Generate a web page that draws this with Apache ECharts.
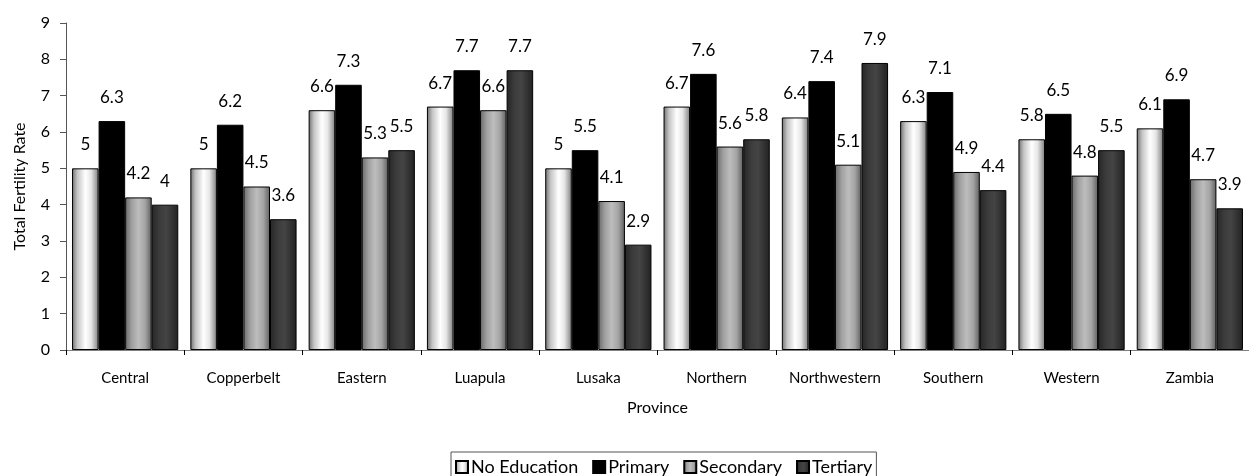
<!DOCTYPE html>
<html>
<head>
<meta charset="utf-8">
<script src="https://cdn.jsdelivr.net/npm/echarts@6/dist/echarts.min.js"></script>
<style>
  html, body { margin: 0; padding: 0; background: #fff; }
  #chart { width: 1249px; height: 476px; }
</style>
</head>
<body>
<div id="chart"></div>
<script>
// TFR by province and education level
const provinces = ['Central', 'Copperbelt', 'Eastern', 'Luapula', 'Lusaka', 'Northern', 'Northwestern', 'Southern', 'Western', 'Zambia']
const noEducation = [5, 5, 6.6, 6.7, 5, 6.7, 6.4, 6.3, 5.8, 6.1]
const primary = [6.3, 6.2, 7.3, 7.7, 5.5, 7.6, 7.4, 7.1, 6.5, 6.9]
const secondary = [4.2, 4.5, 5.3, 6.6, 4.1, 5.6, 5.1, 4.9, 4.8, 4.7]
const tertiary = [4, 3.6, 5.5, 7.7, 2.9, 5.8, 7.9, 4.4, 5.5, 3.9]
const yTicks = [0, 1, 2, 3, 4, 5, 6, 7, 8, 9]

const FONT = 'Lato'

function grad(stops) {
  return new echarts.graphic.LinearGradient(0, 0, 1, 0,
    stops.map((c) => ({ offset: c[0], color: c[1] })))
}

const colors = {
  'No Education': grad([[0, '#6e6e6e'], [0.2, '#c4c4c4'], [0.5, '#ffffff'], [0.72, '#e6e6e6'], [1, '#7e7e7e']]),
  'Primary': '#000000',
  'Secondary': grad([[0, '#6a6a6a'], [0.25, '#a0a0a0'], [0.5, '#bdbdbd'], [0.75, '#a4a4a4'], [1, '#5e5e5e']]),
  'Tertiary': grad([[0, '#262626'], [0.3, '#3c3c3c'], [0.55, '#444444'], [1, '#222222']])
}

function makeSeries(name, data) {
  return {
    name,
    type: 'bar',
    data,
    barGap: '0%',
    barCategoryGap: '10.2%',
    itemStyle: { color: colors[name], borderColor: '#000', borderWidth: 1 },
    label: {
      show: true,
      position: 'top',
      distance: 15,
      color: '#000',
      fontFamily: FONT,
      fontSize: 17
    }
  }
}

const chart = echarts.init(document.getElementById('chart'))
chart.setOption({
  animation: false,
  backgroundColor: '#fff',
  textStyle: { fontFamily: FONT },
  grid: { left: 66, top: 23, width: 1192, height: 327 },
  legend: {
    bottom: -8,
    left: 451,
    icon: 'rect',
    itemWidth: 12,
    itemHeight: 12,
    itemGap: 14,
    padding: [6, 4, 8, 4],
    borderColor: '#555',
    borderWidth: 1,
    borderRadius: 0,
    textStyle: { fontFamily: FONT, fontSize: 18, color: '#000', padding: [0, 0, 0, -2] },
    data: ['No Education', 'Primary', 'Secondary', 'Tertiary']
  },
  xAxis: {
    type: 'category',
    data: provinces,
    name: 'Province',
    nameLocation: 'middle',
    nameGap: 50,
    nameTextStyle: { fontFamily: FONT, fontSize: 16, color: '#000' },
    axisLine: { lineStyle: { color: '#808080', width: 1 } },
    axisTick: { show: true, length: 5, lineStyle: { color: '#000' } },
    axisLabel: { color: '#000', fontFamily: FONT, fontSize: 15, margin: 21, interval: 0 }
  },
  yAxis: {
    type: 'value',
    min: yTicks[0],
    max: yTicks[yTicks.length - 1],
    interval: 1,
    name: 'Total Fertility Rate',
    nameLocation: 'middle',
    nameRotate: 90,
    nameGap: 38,
    nameTextStyle: { fontFamily: FONT, fontSize: 16, color: '#000' },
    axisLine: { show: true, lineStyle: { color: '#555', width: 1 } },
    axisTick: { show: true, length: 6, lineStyle: { color: '#555' } },
    axisLabel: { color: '#000', fontFamily: FONT, fontSize: 16, margin: 16 },
    splitLine: { show: false }
  },
  series: [
    makeSeries('No Education', noEducation),
    makeSeries('Primary', primary),
    makeSeries('Secondary', secondary),
    makeSeries('Tertiary', tertiary)
  ]
})
</script>
</body>
</html>
